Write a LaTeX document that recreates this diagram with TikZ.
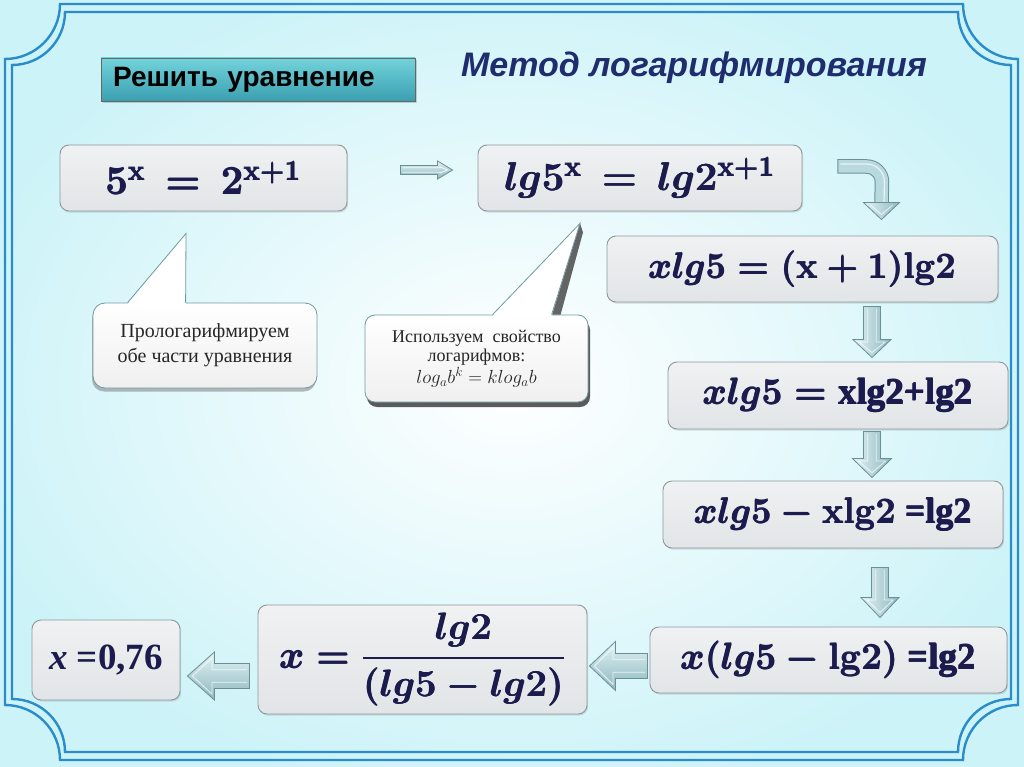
\RequirePackage{fix-cm}
\documentclass[tikz,border=0pt]{standalone}
\usepackage{amsmath}
\usepackage[no-math]{fontspec}
\setmainfont{Liberation Serif}
\setsansfont{Liberation Sans}
\usetikzlibrary{calc,shadows}
\definecolor{navy}{HTML}{1B1B4D}
\definecolor{titleblue}{HTML}{1F2C6E}
\definecolor{frameblue}{HTML}{2A8CCB}
\definecolor{boxfill}{HTML}{E2E5E7}
\definecolor{boxtop}{HTML}{EFF1F2}
\definecolor{boxline}{HTML}{8F989C}
\definecolor{arrowlight}{HTML}{E2F3F5}
\definecolor{arrowdark}{HTML}{8DB7BE}
\definecolor{arrowmid}{HTML}{B8DADF}
\definecolor{arrowline}{HTML}{6A9097}
\definecolor{tealtop}{HTML}{73D3DB}
\definecolor{tealbot}{HTML}{3A9FB0}
\definecolor{bgcyan}{HTML}{CCF3F8}
\definecolor{callline}{HTML}{6F9AA0}
\newcommand\blkarrow[6]{%
  \coordinate (bkS) at #1;
  \coordinate (bkE) at #2;
  \coordinate (bkH) at ($(bkE)!#5!(bkS)$);
  \path[arrowbody,#6] ($(bkS)!#3!90:(bkE)$) -- ($(bkH)!#3!90:(bkE)$) -- ($(bkH)!#4!90:(bkE)$) -- (bkE) -- ($(bkH)!#4!-90:(bkE)$) -- ($(bkH)!#3!-90:(bkE)$) -- ($(bkS)!#3!-90:(bkE)$) -- cycle;
  \pgfmathsetlengthmacro\bkin{#3*0.5}%
  \pgfmathsetlengthmacro\bkhin{#4-6pt}%
  \coordinate (bkS2) at ($(bkS)!2.5pt!(bkE)$);
  \coordinate (bkE2) at ($(bkE)!5pt!(bkS)$);
  \coordinate (bkH2) at ($(bkH)!2.5pt!(bkE)$);
  \draw[arrowridge] ($(bkS2)!\bkin!90:(bkE)$) -- ($(bkH2)!\bkin!90:(bkE)$) -- ($(bkH2)!\bkhin!90:(bkE)$) -- (bkE2) -- ($(bkH2)!\bkhin!-90:(bkE)$) -- ($(bkH2)!\bkin!-90:(bkE)$) -- ($(bkS2)!\bkin!-90:(bkE)$);
}
\tikzset{
  eqbox/.style={draw=boxline, line width=0.9pt, rounded corners=9pt,
    top color=boxtop, bottom color=boxfill,
    drop shadow={opacity=0.25, shadow xshift=1.2pt, shadow yshift=-1.6pt},
    text=navy, inner sep=0pt},
  eqfont/.style={font=\fontsize{#1}{#1}\selectfont\boldmath},
  arrowbody/.style={draw=arrowline, line width=0.8pt, line join=miter},
  hshade/.style={top color=arrowlight, bottom color=arrowdark},
  vshade/.style={left color=arrowlight, right color=arrowdark},
  arrowridge/.style={draw=white, opacity=0.75, line width=0.8pt, line join=miter},
  frameline/.style={draw=frameblue, line width=2.4pt},
  callout/.style={draw=callline, line width=0.8pt, rounded corners=12pt,
    top color=white, bottom color=black!6, text=black!85, align=center, inner sep=0pt},
  calloutline/.style={draw=callline, line width=0.8pt, line join=miter},
}
\begin{document}
\begin{tikzpicture}[x=1pt,y=-1pt]
\useasboundingbox (0,0) rectangle (1024,767);
% background
\shade[inner color=white, outer color=bgcyan] (-60,-40) rectangle (1084,807);
% frame
\draw[frameline] (60,4) -- (963,4) arc[start angle=180,end angle=270,radius=55pt]
  -- (1018,705) arc[start angle=90,end angle=180,radius=55pt]
  -- (60,760) arc[start angle=0,end angle=90,radius=55pt]
  -- (5,59) arc[start angle=270,end angle=360,radius=55pt] -- cycle;
\draw[frameline] (65,12) -- (958,12) arc[start angle=180,end angle=270,radius=53pt]
  -- (1011,699) arc[start angle=90,end angle=180,radius=53pt]
  -- (65,752) arc[start angle=0,end angle=90,radius=53pt]
  -- (12,65) arc[start angle=270,end angle=360,radius=53pt] -- cycle;

% header
\node[draw=black!60, line width=0.9pt, top color=tealtop, bottom color=tealbot,
  drop shadow={opacity=0.35, shadow xshift=1.5pt, shadow yshift=-2pt},
  minimum width=314pt, minimum height=43pt, text width=290pt, align=left,
  inner xsep=12pt, inner ysep=0pt,
  font=\sffamily\bfseries\fontsize{28}{30}\selectfont] (task) at (258,79.5) {Решить уравнение};
\node[anchor=base, text=titleblue, font=\sffamily\bfseries\itshape\fontsize{34}{38}\selectfont]
  (title) at (694,77) {Метод логарифмирования};

% equation boxes
\node[eqbox, eqfont=40, minimum width=287pt, minimum height=66pt] (A) at (203.5,178)
  {\pmb{$5^{\mathrm{x}} \,=\, 2^{\mathrm{x}+1}$}};
\node[eqbox, eqfont=40, minimum width=324pt, minimum height=66pt] (B) at (640,178)
  {\pmb{$lg5^{\mathrm{x}} \,=\, lg2^{\mathrm{x}+1}$}};
\node[eqbox, eqfont=36, minimum width=391pt, minimum height=66pt] (C) at (802.5,269)
  {\pmb{$xlg5 = (\mathrm{x}+1)\mathrm{lg}2$}};
\node[eqbox, eqfont=37, minimum width=340pt, minimum height=67pt] (D) at (838,395.5)
  {\pmb{$xlg5 = {}$\textbf{xlg2+lg2}}};
\node[eqbox, eqfont=36, minimum width=340pt, minimum height=67pt] (E) at (833,514.5)
  {\pmb{$xlg5 - \mathrm{xlg}2$ \textbf{=lg2}}};
\node[eqbox, eqfont=37, minimum width=357pt, minimum height=66pt] (F) at (828.5,660)
  {\pmb{$x(lg5 - \mathrm{lg}2)$ \textbf{=lg2}}};
\node[eqbox, eqfont=38, minimum width=329pt, minimum height=109pt] (G) at (422.5,659.5)
  {\pmb{$x = \dfrac{lg2}{(lg5 - lg2)}$}};
\node[eqbox, font=\bfseries\fontsize{37}{40}\selectfont, minimum width=148pt, minimum height=80pt] (H) at (106,660)
  {\textit{x} =0,76};

% callouts
\node[callout, minimum width=224pt, minimum height=85pt,
  drop shadow={opacity=0.55, shadow xshift=-1pt, shadow yshift=-3.5pt},
  font=\fontsize{20}{25}\selectfont] (c1) at (205,345.5) {Прологарифмируем\\обе части уравнения};
\coordinate (t1) at ($(A.south)+(-17.5,22)$);
\fill[white] ($(c1.north west)+(35,1.5)$) -- (t1) -- ($(c1.north west)+(93,1.5)$) -- cycle;
\draw[calloutline] ($(c1.north west)+(35,0)$) -- (t1) -- ($(c1.north west)+(93,0)$);

\node[callout, rounded corners=10pt, minimum width=223pt, minimum height=87pt,
  drop shadow={opacity=0.8, fill=black!80, shadow xshift=2pt, shadow yshift=-5pt},
  font=\fontsize{18}{19.5}\selectfont] (c2) at (476.5,358.5)
  {Используем~ свойство\\логарифмов:\\[1pt]{\fontsize{19}{20}\selectfont$log_a b^k = klog_a b$}};
\coordinate (t2) at ($(B.south)+(-60,12)$);
\fill[black!75, opacity=0.8] (t2) -- ($(c2.north west)+(187,0)$) -- ($(c2.north west)+(196,0)$) -- ($(t2)+(3,9)$) -- cycle;
\fill[white] ($(c2.north west)+(128,1.5)$) -- (t2) -- ($(c2.north west)+(187,1.5)$) -- cycle;
\draw[calloutline] ($(c2.north west)+(128,0)$) -- (t2) -- ($(c2.north west)+(187,0)$);

% straight block arrows
\blkarrow{($(A.east)+(53,-8)$)}{($(B.west)+(-25,-8)$)}{4.5pt}{9pt}{15pt}{hshade}
\blkarrow{($(C.south)+(69.5,4)$)}{($(D.north)+(34,-4)$)}{8.5pt}{19pt}{18pt}{vshade}
\blkarrow{($(D.south)+(34,2)$)}{($(E.north)+(39,-3)$)}{8.5pt}{19.5pt}{19pt}{vshade}
\blkarrow{($(E.south)+(47,19)$)}{($(F.north)+(51.5,-9)$)}{8.5pt}{19pt}{20pt}{vshade}
\blkarrow{($(F.west)+(-2,6)$)}{($(G.east)+(2,6.5)$)}{12.5pt}{24.5pt}{26pt}{hshade}
\blkarrow{($(G.west)+(-8,16.5)$)}{($(H.east)+(7,16)$)}{12.5pt}{24pt}{27pt}{hshade}

% curved block arrow from B to C
\coordinate (cvS) at ($(B.east)+(35,-11.5)$);
\coordinate (cvT) at ($(C.north)+(79,-16)$);
\coordinate (cvK) at ($(cvT)+(0,-17)$);
\draw[arrowline, line width=14.5pt] (cvS) -- ++(29,0) arc[start angle=90,end angle=0,radius=15.5pt] -- ($(cvK)+(0,1)$);
\draw[arrowmid, line width=12.5pt] ($(cvS)+(0.8,0)$) -- ++(28.2,0) arc[start angle=90,end angle=0,radius=15.5pt] -- ($(cvK)+(0,1.5)$);
\draw[white, opacity=0.7, line width=1.2pt] ($(cvS)+(3,-2.5)$) -- ++(26,0) arc[start angle=90,end angle=0,radius=18pt] -- ($(cvK)+(2.5,0)$);
\path[arrowbody, vshade] ($(cvK)+(-18,0)$) -- (cvT) -- ($(cvK)+(18,0)$) -- cycle;
\draw[arrowridge] ($(cvK)+(-11,2.5)$) -- ($(cvT)+(0,-5)$) -- ($(cvK)+(11,2.5)$);
\end{tikzpicture}
\end{document}
